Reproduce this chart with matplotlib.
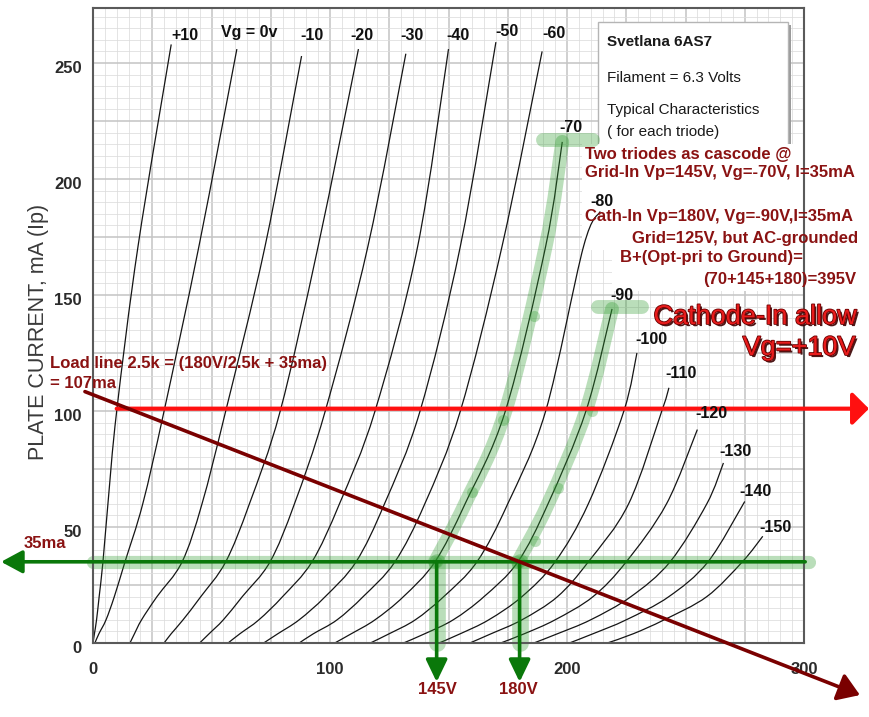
import matplotlib as mpl
import matplotlib.pyplot as plt
import matplotlib.patheffects as pe
from matplotlib.patches import Rectangle, PathPatch
from matplotlib.path import Path
import numpy as np

W, H = 869, 717
nan = np.nan

# plate curves: plate volts at fixed plate currents (mA)
grid_volts = [10, 0, -10, -20, -30, -40, -50, -60, -70, -80, -90, -100, -110, -120, -130, -140, -150]
ip_levels = [0, 4, 10, 20, 35, 60, 100, 171]
vp_table = [
    [0.0, 0.6, 1.5, 2.6, 4.2, 6.3, 10.0, 19.0],
    [0.8, 2.5, 5.5, 9.0, 13.5, 21.0, 30.0, 44.7],
    [15.6, 17.5, 20.5, 27.0, 37.6, 46.0, 56.0, 72.6],
    [30.0, 33.0, 38.0, 45.5, 56.0, 66.0, 79.0, 95.0],
    [45.0, 49.0, 55.0, 63.0, 74.7, 85.0, 98.0, 116.0],
    [57.0, 62.0, 70.0, 80.0, 92.4, 104.0, 119.0, 137.0],
    [72.0, 78.0, 87.0, 98.0, 111.0, 123.0, 138.0, 155.0],
    [87.0, 93.0, 103.0, 114.0, 127.4, 140.0, 155.0, 172.6],
    [102.0, 109.0, 119.0, 131.0, 144.3, 157.0, 174.0, 191.0],
    [117.0, 125.0, 136.0, 148.0, 162.0, 175.0, 191.0, 207.0],
    [131.0, 140.0, 152.0, 165.0, 179.3, 192.0, 208.0, nan],
    [146.0, 155.0, 167.0, 181.0, 195.0, 209.0, 224.0, nan],
    [159.0, 168.0, 181.0, 196.0, 209.0, 226.0, 240.0, nan],
    [172.0, 182.0, 195.0, 211.0, 225.0, 242.0, nan, nan],
    [186.0, 196.0, 210.0, 227.0, 243.5, 259.0, nan, nan],
    [201.0, 211.0, 225.0, 243.0, 259.5, nan, nan, nan],
    [217.0, 228.0, 241.0, 259.0, 274.0, nan, nan, nan],
]
top_vp = [33, 60.7, 88, 112, 132, 150, 170, 189.5, 198, 214, 219, 229.5, 243, 255, 266, 275, 282.6]
top_ip = [258, 256, 253, 256, 254, 256, 259, 255, 216, 186, 144, 125, 110, 92, 77.6, 61, 46]
curve_names = ['+10', 'Vg = 0v', '-10', '-20', '-30', '-40', '-50', '-60', '-70', '-80',
               '-90', '-100', '-110', '-120', '-130', '-140', '-150']
label_px = [(185, 35), (249, 32), (312, 35), (362, 35), (412, 35), (458, 36), (507, 32),
            (554, 33), (571, 128), (602, 202), (622, 295), (651, 340), (681, 373),
            (711, 413), (735, 452), (755, 492), (775, 528)]

# operating points / annotation values
op_ip = 35
op_grid_vp = 145
op_cath_vp = 180
red_line_ip = 101
red_line_vp = [10, 327.4]
load_i0 = 107
load_r_k = 2.5
load_vp = [-3.4, 323.6]
green_tip_vp = -38.8
green_end_vp = 300.5
down_tip_ip = -16.8
cap70_vp, cap70_ip = [190, 211], 217
cap90_vp, cap90_ip = [213, 231.6], 145
dots_vp = [145, 160, 173, 186, 180, 186.5, 196, 210.5]
dots_ip = [35, 65, 96, 141, 35, 44, 67, 100]

SANS = 'Liberation Sans'
plt.rcParams['font.family'] = [SANS, 'DejaVu Sans']


def fx(x):
    return x / W


def fy(y):
    return 1 - y / H


def smooth(vv, ii):
    # Catmull-Rom curve through the read points, drawn as bezier segments
    p = np.column_stack([vv, ii])
    n = len(p)
    verts, codes = [p[0]], [Path.MOVETO]
    for k in range(n - 1):
        p0, p1, p2, p3 = p[max(k - 1, 0)], p[k], p[k + 1], p[min(k + 2, n - 1)]
        verts += [p1 + (p2 - p0) / 6, p2 - (p3 - p1) / 6, p2]
        codes += [Path.CURVE4] * 3
    return Path(verts, codes)


fig = plt.figure(figsize=(W / 100, H / 100), dpi=100)
ax = fig.add_axes([fx(93), fy(643), (804 - 93) / W, (643 - 8) / H])
ax.set_xlim(0, 300)
ax.set_ylim(0, (643 - 8) / 2.32)

ax.set_xticks(np.arange(0, 301, 25))
ax.set_xticks(np.arange(0, 301, 5), minor=True)
ax.set_yticks(np.arange(0, 274, 25))
ax.set_yticks(np.arange(0, 274, 5), minor=True)
ax.set_xticklabels([])
ax.set_yticklabels([])
ax.tick_params(which='both', length=0)
ax.grid(which='major', color='#c4c4c4', lw=1.1)
ax.grid(which='minor', color='#dcdcdc', lw=0.55)
for s in ax.spines.values():
    s.set_color('#5a5a5a')
    s.set_linewidth(1.5)

tick_kw = dict(fontsize=12, fontweight='bold', color='#2b2b2b')
for v in range(0, 251, 50):
    ax.annotate(str(v), xy=(0, v), xycoords=('axes fraction', 'data'), xytext=(-8, -4),
                textcoords='offset points', ha='right', va='center', **tick_kw)
for v in range(0, 301, 100):
    ax.annotate(str(v), xy=(v, 0), xycoords=('data', 'axes fraction'), xytext=(0, -19),
                textcoords='offset points', ha='center', va='center', **tick_kw)

fig.text(fx(39), fy(332), 'PLATE CURRENT, mA (Ip)', rotation=90, ha='center', va='center',
         fontsize=15.5, color='#3a3a3a')

# white panels behind the notes
def panel(x0, y0, x1, y1, z, **kw):
    r = Rectangle((fx(x0), fy(y1)), (x1 - x0) / W, (y1 - y0) / H, transform=fig.transFigure,
                  clip_on=False, zorder=z, **kw)
    ax.add_patch(r)


panel(601, 25, 791, 149, 1.6, facecolor='#9a9a9a', edgecolor='none')
panel(598, 22, 788, 146, 1.7, facecolor='white', edgecolor='#b5b5b5', lw=1)
panel(582, 144, 869, 250, 1.75, facecolor='white', edgecolor='none')
panel(612, 250, 869, 291, 1.75, facecolor='white', edgecolor='none')

# plate curves
for row, tv, ti in zip(vp_table, top_vp, top_ip):
    vv = [v for v in row if not np.isnan(v)] + [tv]
    ii = [i for v, i in zip(row, ip_levels) if not np.isnan(v)] + [ti]
    ax.add_patch(PathPatch(smooth(vv, ii), fill=False, edgecolor='#151515', lw=0.9,
                           zorder=2, clip_on=False))

for name, (x, y) in zip(curve_names, label_px):
    fig.text(fx(x), fy(y), name, ha='center', va='center', fontsize=11.5, fontweight='bold',
             color='#111111', zorder=6)

# green highlight bands
band_c = '#2e9b2e'
band = dict(color=band_c, alpha=0.33, solid_capstyle='round', clip_on=False, zorder=2.5)
for k, cap_v, cap_i in [(grid_volts.index(-70), cap70_vp, cap70_ip),
                        (grid_volts.index(-90), cap90_vp, cap90_ip)]:
    row = vp_table[k]
    vv = [v for v, i in zip(row, ip_levels) if i >= op_ip and not np.isnan(v)] + [top_vp[k]]
    ii = [i for v, i in zip(row, ip_levels) if i >= op_ip and not np.isnan(v)] + [top_ip[k]]
    ax.add_patch(PathPatch(smooth(vv, ii), fill=False, edgecolor=band_c, alpha=0.33, lw=10,
                           capstyle='round', joinstyle='round', zorder=2.5, clip_on=False))
    ax.plot(cap_v, [cap_i, cap_i], lw=10, **band)
ax.plot([0, 302], [op_ip, op_ip], lw=9.5, **band)
ax.plot([op_grid_vp, op_grid_vp], [op_ip, 0], lw=12, **band)
ax.plot([op_cath_vp, op_cath_vp], [op_ip, 0], lw=12, **band)
ax.plot(dots_vp, dots_ip, 'o', ms=8, color=band_c, alpha=0.3, mec='none', zorder=2.6)

# arrows
def arrow(start, tip, color, lw, hl, hw):
    ax.annotate('', xy=tip, xytext=start, xycoords='data', annotation_clip=False,
                arrowprops=dict(arrowstyle=f'-|>,head_length={hl},head_width={hw}',
                                color=color, lw=lw, shrinkA=0, shrinkB=0,
                                mutation_scale=1), zorder=4)


green = '#0a780a'
arrow((green_end_vp, op_ip), (green_tip_vp, op_ip), green, 2.6, 13, 7)
arrow((op_grid_vp, op_ip), (op_grid_vp, down_tip_ip), green, 2.6, 13.5, 6.5)
arrow((op_cath_vp, op_ip), (op_cath_vp, down_tip_ip), green, 2.6, 13.5, 6.5)
arrow((red_line_vp[0], red_line_ip), (red_line_vp[1], red_line_ip), '#ff1010', 3, 10, 10)
load_ip = [load_i0 - v / load_r_k for v in load_vp]
arrow((load_vp[0], load_ip[0]), (load_vp[1], load_ip[1]), '#7a0000', 2.6, 13, 8.6)

# notes
dark_red = '#8a1212'
note_kw = dict(fontsize=12, fontweight='bold', color=dark_red, va='center', zorder=6)
fig.text(fx(585), fy(154), 'Two triodes as cascode @', ha='left', **note_kw)
fig.text(fx(585), fy(173), 'Grid-In Vp=145V, Vg=-70V, I=35mA', ha='left', **note_kw)
fig.text(fx(585), fy(217), 'Cath-In Vp=180V, Vg=-90V,I=35mA', ha='left', **note_kw)
fig.text(fx(858), fy(238), 'Grid=125V, but AC-grounded', ha='right', **note_kw)
fig.text(fx(620), fy(258), 'B+(Opt-pri to Ground)=', ha='left', **note_kw)
fig.text(fx(856), fy(279), '(70+145+180)=395V', ha='right', **note_kw)
fig.text(fx(50), fy(363), 'Load line 2.5k = (180V/2.5k + 35ma)', ha='left', **note_kw)
fig.text(fx(50), fy(384), '= 107ma', ha='left', **note_kw)
fig.text(fx(24), fy(543), '35ma', ha='left', **note_kw)
fig.text(fx(437), fy(690), '145V', ha='center', **note_kw)
fig.text(fx(518), fy(690), '180V', ha='center', **note_kw)

big_fx = [pe.withSimplePatchShadow(offset=(1.5, -1.5), shadow_rgbFace='#3a0000', alpha=0.9),
          pe.withStroke(linewidth=1.2, foreground='#6a0000')]
fig.text(fx(857), fy(317), 'Cathode-In allow', ha='right', va='center', fontsize=19.5,
         color='#e81c1c', path_effects=big_fx, zorder=6)
fig.text(fx(856), fy(348), 'Vg=+10V', ha='right', va='center', fontsize=19.5,
         color='#e81c1c', path_effects=big_fx, zorder=6)

box_kw = dict(ha='left', va='center', color='#1a1a1a', zorder=6)
fig.text(fx(607), fy(42), 'Svetlana 6AS7', fontsize=11, fontweight='bold', **box_kw)
fig.text(fx(607), fy(78), 'Filament = 6.3 Volts', fontsize=11, **box_kw)
fig.text(fx(607), fy(110), 'Typical Characteristics', fontsize=11, **box_kw)
fig.text(fx(607), fy(132), '( for each triode)', fontsize=11, **box_kw)

fig.savefig('out.png', dpi=100)
